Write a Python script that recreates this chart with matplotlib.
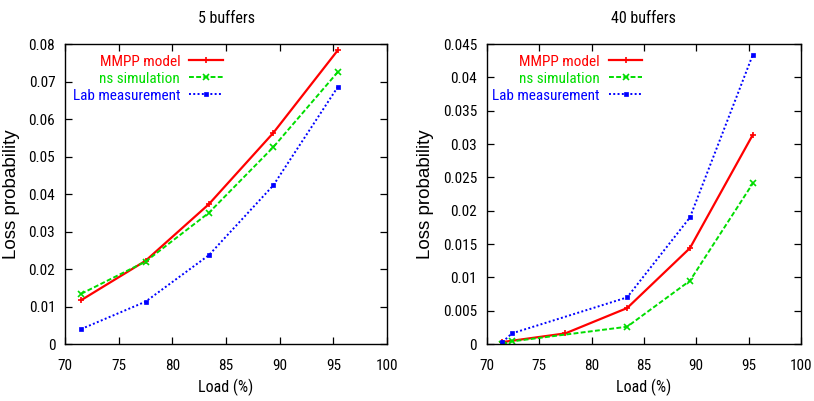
import numpy as np
import matplotlib
matplotlib.use("Agg")
import matplotlib.pyplot as plt
from matplotlib import font_manager

# pick a narrow sans if one is installed
names = {f.name for f in font_manager.fontManager.ttflist}
narrow = [n for n in ['Liberation Sans Narrow', 'Roboto Condensed', 'Open Sans Condensed',
                      'DejaVu Sans Condensed'] if n in names]
main_font = narrow[0] if narrow else 'Liberation Sans'
plt.rcParams['font.family'] = [main_font, 'DejaVu Sans']

# 5 buffers
load5 = [71.5, 77.5, 83.4, 89.4, 95.4]
mmpp5 = [0.0117, 0.0222, 0.0373, 0.0563, 0.0783]
ns5 = [0.0134, 0.0220, 0.0350, 0.0525, 0.0725]
lab5 = [0.0040, 0.0113, 0.0237, 0.0423, 0.0685]

# 40 buffers
load40_mmpp = [71.5, 77.5, 83.4, 89.4, 95.4]
mmpp40 = [0.0003, 0.0016, 0.0054, 0.0144, 0.0314]
load40_ns = [71.5, 72.4, 83.4, 89.4, 95.4]
ns40 = [0.0000, 0.0004, 0.0026, 0.0095, 0.0241]
load40_lab = [71.5, 72.4, 83.4, 89.4, 95.4]
lab40 = [0.0003, 0.0016, 0.0070, 0.0190, 0.0434]

labels = ['MMPP model', 'ns simulation', 'Lab measurement']
colors = ['#ff0000', '#00dd00', '#0000ff']
FS = 11 if narrow else 10


def draw(ax, series, title, ymax, ystep, yfmt, leg_x):
    styles = [dict(ls='-', marker='+', lw=1.6, ms=5, mew=1.2),
              dict(ls=(0, (2.5, 1.2)), marker='x', lw=1.4, ms=4, mew=1.2),
              dict(ls=(0, (1, 1.2)), marker='s', lw=1.4, ms=3.5, mew=0.5)]
    for (x, y), lab, c, st in zip(series, labels, colors, styles):
        ax.plot(x, y, color=c, label=lab, **st)
    ax.set_xlim(70, 100)
    ax.set_ylim(0, ymax)
    ax.set_xticks(np.arange(70, 101, 5))
    yt = np.arange(0, ymax + ystep / 2, ystep)
    ax.set_yticks(yt)
    ax.set_yticklabels([yfmt(v) for v in yt])
    ax.tick_params(direction='in', top=True, right=True, length=5,
                   labelsize=FS, width=0.9)
    ax.tick_params(axis='x', pad=11)
    ax.tick_params(axis='y', pad=7)
    for s in ax.spines.values():
        s.set_linewidth(1.0)
    ax.set_title(title, fontsize=FS + 0.5, pad=15)
    ax.set_xlabel('Load (%)', fontsize=FS + 0.5, labelpad=4)
    ax.set_ylabel('Loss probability', fontsize=13.5, labelpad=6,
                  family=['Liberation Sans', 'DejaVu Sans'])
    leg = ax.legend(loc='upper right', bbox_to_anchor=(leg_x, 0.975),
                    frameon=False, markerfirst=False, fontsize=FS,
                    handlelength=2.2, handletextpad=0.6, labelspacing=0.2,
                    borderaxespad=0.0, borderpad=0.2)
    for t, c in zip(leg.get_texts(), colors):
        t.set_color(c)


def fmt5(v):
    return '0' if v == 0 else f'{v:.2f}'


def fmt40(v):
    if v == 0:
        return '0'
    return f'{v:.3f}'.rstrip('0')


fig = plt.figure(figsize=(8.14, 4.01), dpi=100)
ax1 = fig.add_axes([0.0799, 0.142, 0.3955, 0.748])
ax2 = fig.add_axes([0.598, 0.142, 0.386, 0.748])

draw(ax1, [(load5, mmpp5), (load5, ns5), (load5, lab5)], '5 buffers', 0.08, 0.01, fmt5, 0.50)
draw(ax2, [(load40_mmpp, mmpp40), (load40_ns, ns40), (load40_lab, lab40)],
     '40 buffers', 0.045, 0.005, fmt40, 0.505)

fig.savefig('out.png', dpi=100)
